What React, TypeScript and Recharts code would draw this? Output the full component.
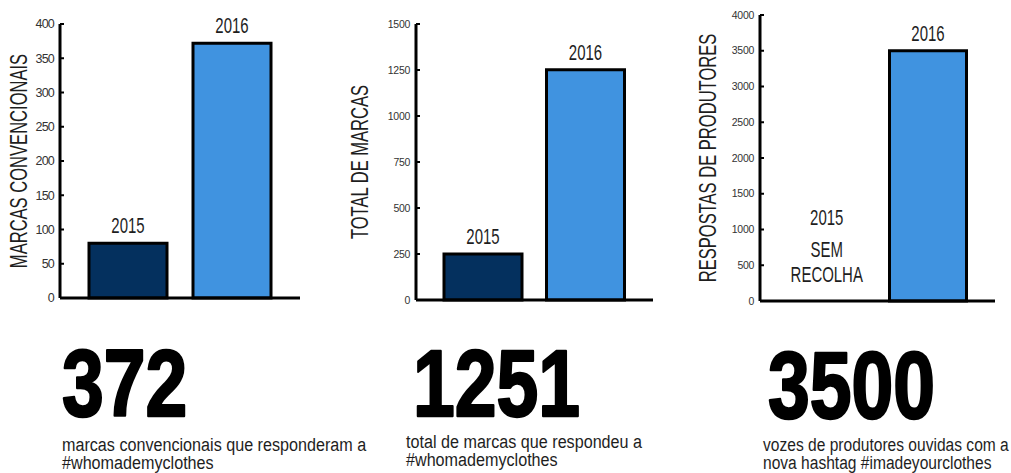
import { BarChart, Bar, XAxis, YAxis, Cell, LabelList } from "recharts";

const years = ["2015", "2016"];
const conventionalBrands = [80, 372];
const totalBrands = [250, 1251];
const producerVoices: (number | null)[] = [null, 3500];

const conventionalTicks = [0, 50, 100, 150, 200, 250, 300, 350, 400];
const totalTicks = [0, 250, 500, 750, 1000, 1250, 1500];
const producerTicks = [0, 500, 1000, 1500, 2000, 2500, 3000, 3500, 4000];

const axisTitles = [
    "MARCAS CONVENCIONAIS",
    "TOTAL DE MARCAS",
    "RESPOSTAS DE PRODUTORES",
];
const headlines = ["372", "1251", "3500"];
const captions = [
    ["marcas convencionais que responderam a", "#whomademyclothes"],
    ["total de marcas que respondeu a", "#whomademyclothes"],
    ["vozes de produtores ouvidas com a", "nova hashtag #imadeyourclothes"],
];
const missingNote = ["2015", "SEM", "RECOLHA"];

const barColors = ["#04305e", "#4093e0"];
const FONT = "'Liberation Sans', Arial, sans-serif";
const INK = "#1e1e1e";

type Row = { year: string; value: number | null };

function AxisTitle({ viewBox, text, dx }: any) {
    if (!viewBox) return null;
    const cx = viewBox.x + dx;
    const cy = viewBox.y + viewBox.height / 2;
    return (
        <text
            transform={`translate(${cx},${cy}) rotate(-90) scale(0.72,1)`}
            y={8}
            textAnchor="middle"
            fontSize={23}
            fill={INK}
            fontFamily={FONT}
        >
            {text}
        </text>
    );
}

function YearLabel({ x, y, width, value, data }: any) {
    const row = data.find((d: Row) => d.year === value);
    if (!row || row.value == null) return null;
    return (
        <text
            transform={`translate(${Number(x) + Number(width) / 2},${Number(y) - 10}) scale(0.68,1)`}
            textAnchor="middle"
            fontSize={22}
            fill={INK}
            fontFamily={FONT}
        >
            {value}
        </text>
    );
}

// the empty category gets its note drawn above the axis
function NoteTick({ x, y, payload, data }: any) {
    const row = data.find((d: Row) => d.year === payload.value);
    if (!row || row.value != null) return <g />;
    const offsets = [-76, -44, -19];
    return (
        <g>
            {missingNote.map((line, i) => (
                <text
                    key={line}
                    transform={`translate(${x},${y + offsets[i]}) scale(0.68,1)`}
                    textAnchor="middle"
                    fontSize={22}
                    fill={INK}
                    fontFamily={FONT}
                >
                    {line}
                </text>
            ))}
        </g>
    );
}

type PanelProps = {
    left: number;
    width: number;
    height: number;
    top: number;
    axisWidth: number;
    titleX: number;
    values: (number | null)[];
    ticks: number[];
    title: string;
    tickSize: number;
    tickSpacing: number;
    barSize: number;
};

function Panel(props: PanelProps) {
    const data: Row[] = years.map((year, i) => ({ year, value: props.values[i] }));
    const max = props.ticks[props.ticks.length - 1];

    return (
        <div style={{ position: "absolute", left: props.left, top: 0 }}>
            <BarChart
                width={props.width}
                height={props.height}
                data={data}
                margin={{ top: props.top, right: 10, bottom: 0, left: 0 }}
                style={{ fontFamily: FONT }}
            >
                <XAxis
                    dataKey="year"
                    height={12}
                    padding={{ left: 16, right: 16 }}
                    axisLine={{ stroke: "#000", strokeWidth: 3 }}
                    tickLine={false}
                    tickSize={0}
                    tickMargin={0}
                    interval={0}
                    tick={(p: any) => <NoteTick {...p} data={data} />}
                />
                <YAxis
                    width={props.axisWidth}
                    domain={[0, max]}
                    ticks={props.ticks}
                    interval={0}
                    axisLine={{ stroke: "#000", strokeWidth: 3 }}
                    tickLine={{ stroke: "#000", strokeWidth: 2 }}
                    tickSize={-4}
                    tickMargin={10}
                    tick={{
                        fill: "#333",
                        fontSize: props.tickSize,
                        letterSpacing: props.tickSpacing,
                    }}
                    label={(p: any) => (
                        <AxisTitle viewBox={p.viewBox} text={props.title} dx={props.titleX} />
                    )}
                />
                <Bar
                    dataKey="value"
                    barSize={props.barSize}
                    stroke="#000"
                    strokeWidth={3}
                    isAnimationActive={false}
                >
                    {data.map((d, i) => (
                        <Cell key={d.year} fill={barColors[i]} />
                    ))}
                    <LabelList
                        dataKey="year"
                        content={(p: any) => <YearLabel {...p} data={data} />}
                    />
                </Bar>
            </BarChart>
        </div>
    );
}

const bigX = [62, 413, 768];
const bigBase = [416, 416, 418];
const capX = [62, 406, 763];
const capBase = [451, 448, 451];
const capScale = [0.85, 0.85, 0.82];

export default function App() {
    return (
        <div
            style={{
                position: "absolute",
                left: 0,
                top: 0,
                width: 1011,
                height: 473,
                background: "#fff",
                overflow: "hidden",
            }}
        >
            <Panel
                left={0}
                width={310}
                height={310}
                top={24}
                axisWidth={60}
                titleX={19}
                values={conventionalBrands}
                ticks={conventionalTicks}
                title={axisTitles[0]}
                tickSize={12.5}
                tickSpacing={-0.8}
                barSize={78}
            />
            <Panel
                left={330}
                width={333}
                height={312}
                top={24}
                axisWidth={86}
                titleX={30}
                values={totalBrands}
                ticks={totalTicks}
                title={axisTitles[1]}
                tickSize={10.5}
                tickSpacing={-0.3}
                barSize={78}
            />
            <Panel
                left={680}
                width={325}
                height={313}
                top={15}
                axisWidth={80}
                titleX={28}
                values={producerVoices}
                ticks={producerTicks}
                title={axisTitles[2]}
                tickSize={10.5}
                tickSpacing={-0.3}
                barSize={77}
            />

            <svg
                width={1011}
                height={473}
                style={{ position: "absolute", left: 0, top: 0, pointerEvents: "none" }}
            >
                {headlines.map((h, i) => (
                    <text
                        key={h}
                        transform={`translate(${bigX[i]},${bigBase[i]}) scale(0.79,1)`}
                        fontSize={95}
                        fontWeight={700}
                        fontFamily={FONT}
                        fill="#000"
                        stroke="#000"
                        strokeWidth={2.5}
                        strokeLinejoin="round"
                    >
                        {h}
                    </text>
                ))}
                {captions.map((lines, i) =>
                    lines.map((line, j) => (
                        <text
                            key={`${i}-${j}`}
                            transform={`translate(${capX[i]},${capBase[i] + j * 18}) scale(${capScale[i]},1)`}
                            fontSize={19}
                            fontFamily={FONT}
                            fill={INK}
                        >
                            {line}
                        </text>
                    ))
                )}
            </svg>
        </div>
    );
}
